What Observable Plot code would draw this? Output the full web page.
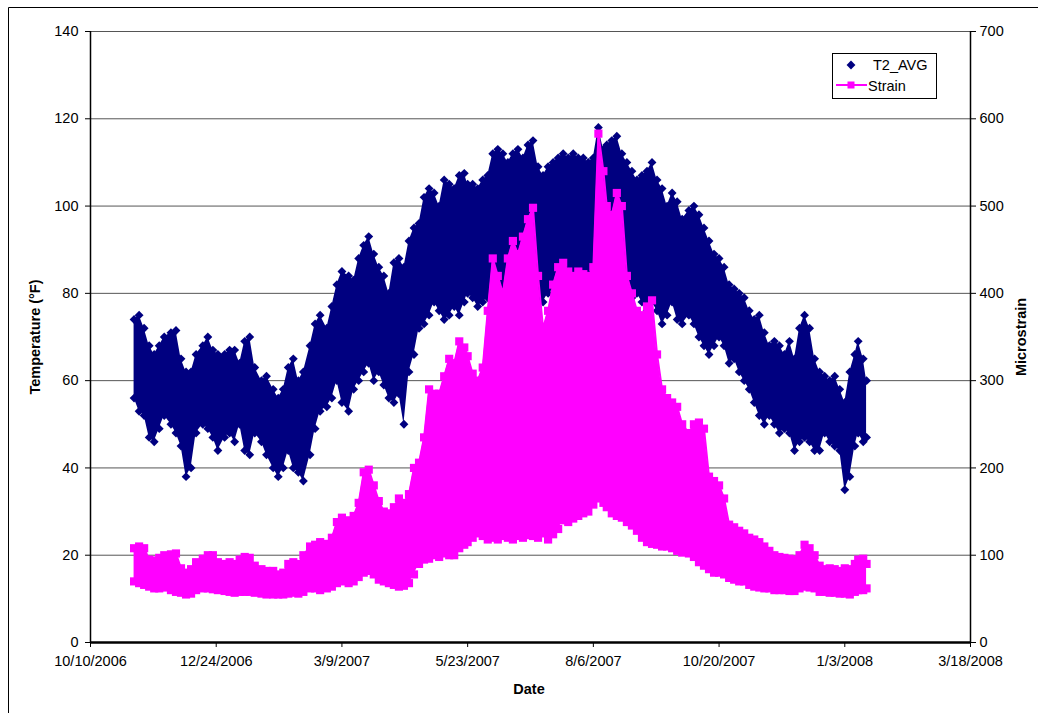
<!DOCTYPE html>
<html>
<head>
<meta charset="utf-8">
<script src="https://cdn.jsdelivr.net/npm/d3@7"></script>
<script src="https://cdn.jsdelivr.net/npm/@observablehq/plot@0.6"></script>
<style>
  html, body { margin: 0; padding: 0; background: #fff; }
  #chart { position: relative; width: 1038px; height: 713px; overflow: hidden; }
</style>
</head>
<body>
<div id="chart"></div>
<script>
// ---------------- data ----------------
const xTickLabels = ["10/10/2006", "12/24/2006", "3/9/2007", "5/23/2007", "8/6/2007", "10/20/2007", "1/3/2008", "3/18/2008"];
const tempTicks = [0, 20, 40, 60, 80, 100, 120, 140];
const strainTicks = [0, 100, 200, 300, 400, 500, 600, 700];
const seriesNames = ["T2_AVG", "Strain"];

const sampleDates = [
  "2006-11-05","2006-11-08","2006-11-11","2006-11-14","2006-11-17","2006-11-20","2006-11-23","2006-11-27","2006-11-30","2006-12-03",
  "2006-12-06","2006-12-09","2006-12-12","2006-12-16","2006-12-19","2006-12-22","2006-12-25","2006-12-29","2007-01-01","2007-01-04",
  "2007-01-07","2007-01-10","2007-01-13","2007-01-16","2007-01-20","2007-01-23","2007-01-27","2007-01-30","2007-02-02","2007-02-05",
  "2007-02-08","2007-02-11","2007-02-14","2007-02-18","2007-02-21","2007-02-24","2007-02-28","2007-03-03","2007-03-06","2007-03-09",
  "2007-03-13","2007-03-16","2007-03-19","2007-03-22","2007-03-25","2007-03-28","2007-03-31","2007-04-03","2007-04-06","2007-04-09",
  "2007-04-12","2007-04-15","2007-04-18","2007-04-21","2007-04-24","2007-04-27","2007-04-30","2007-05-03","2007-05-06","2007-05-09",
  "2007-05-12","2007-05-15","2007-05-18","2007-05-21","2007-05-23","2007-05-26","2007-05-29","2007-06-01","2007-06-04","2007-06-07",
  "2007-06-10","2007-06-13","2007-06-16","2007-06-19","2007-06-22","2007-06-25","2007-06-28","2007-07-01","2007-07-04","2007-07-07",
  "2007-07-10","2007-07-13","2007-07-16","2007-07-19","2007-07-22","2007-07-25","2007-07-28","2007-07-31","2007-08-03","2007-08-06",
  "2007-08-09","2007-08-12","2007-08-14","2007-08-17","2007-08-20","2007-08-23","2007-08-26","2007-08-29","2007-09-01","2007-09-04",
  "2007-09-07","2007-09-10","2007-09-13","2007-09-16","2007-09-19","2007-09-22","2007-09-25","2007-09-28","2007-10-02","2007-10-05",
  "2007-10-08","2007-10-11","2007-10-14","2007-10-17","2007-10-20","2007-10-23","2007-10-26","2007-10-29","2007-11-01","2007-11-04",
  "2007-11-07","2007-11-10","2007-11-13","2007-11-16","2007-11-19","2007-11-22","2007-11-25","2007-11-28","2007-12-01","2007-12-04",
  "2007-12-07","2007-12-10","2007-12-13","2007-12-16","2007-12-19","2007-12-22","2007-12-25","2007-12-28","2007-12-31","2008-01-03",
  "2008-01-06","2008-01-09","2008-01-11","2008-01-14","2008-01-16"
];

// T2_AVG (°F): upper and lower envelope of the readings at each sample date
const tempMax = [
  74,75,72,68,66,68,70,71,71.5,65,
  62,62,66,68,70,67,66,66,67,67,
  64,69,70,63,60,61,58,56,58,63,
  65,60,62,68,73,75,72,77,82,85,
  84,83,88,91,93,89,86,84,80,87,
  88,86,92,95,96,102,104,103,100,106,
  105,104,107,107.5,105,105,104,106,107,112,
  113,112,110,112,113,111,114,115,109,107,
  109,110,111,112,111,112,111,111,110,111,
  118,113,114,115,116,112,110,108,106,107,
  108,110,106,104,100,103,101,97,99,100,
  98,95,92,89,88,86,82,81,80,79,
  76,74,75,71,68,69,68,66,69,65,
  72,75,72,65,62,61,60,61,58,55,
  62,66,69,65,60
];
const tempMin = [
  56,53,52,47,46,49,52,50,48,45,
  38,40,48,50,49,47,44,47,48,46,
  50,44,43,48,46,43,40,38,40,44,
  40,39,37,43,49,53,54,56,60,55,
  53,58,60,62,64,60,62,59,56,55,
  57,50,62,66,72,73,75,78,76,74,
  75,77,75,78,80,79,77,78,79,80,
  81,80,82,80,79,82,84,80,79,78,
  80,81,79,81,82,79,83,85,82,83,
  84,82,83,80,82,86,82,79,80,78,
  76,78,76,73,75,78,74,73,75,73,
  70,68,66,68,70,68,64,65,62,60,
  58,55,52,50,52,50,48,49,48,44,
  46,47,46,44,44,48,46,45,44,35,
  38,45,48,46,47
];

// Strain (microstrain): upper and lower envelope at each sample date
const strainMax = [
  108,110,108,95,94,97,100,101,102,85,
  80,84,92,96,100,100,92,90,92,90,
  95,98,97,88,84,82,82,78,80,90,
  92,90,100,110,112,115,113,120,138,143,
  140,145,160,195,198,180,162,150,148,155,
  165,160,170,200,206,235,290,285,285,305,
  325,320,345,338,328,308,300,315,380,440,
  420,400,440,460,445,465,485,498,420,360,
  380,410,430,435,425,420,425,422,420,430,
  583,540,500,490,515,500,420,400,380,375,
  385,392,330,290,280,275,270,250,240,250,
  252,245,190,185,180,165,135,132,128,125,
  120,118,115,110,105,100,98,97,96,95,
  100,112,108,100,88,84,85,84,82,85,
  84,90,95,96,90
];
const strainMin = [
  70,68,66,64,62,62,63,60,58,57,
  55,56,60,62,62,61,60,59,58,57,
  58,58,58,57,56,55,55,55,55,56,
  57,56,58,62,62,60,62,64,68,70,
  68,70,75,80,82,78,72,70,68,66,
  64,65,68,78,90,95,96,100,98,102,
  100,100,108,112,115,120,125,122,118,120,
  118,122,120,118,122,120,123,122,120,125,
  118,124,130,140,138,142,145,148,150,158,
  165,160,155,148,145,143,138,134,128,120,
  115,113,112,110,110,108,105,103,102,98,
  92,88,84,80,80,78,74,72,70,70,
  66,64,63,62,62,60,60,60,59,59,
  62,64,63,62,58,58,57,57,56,56,
  55,58,60,60,62
];

// ---------------- build ----------------
const parseTick = d3.utcParse("%m/%d/%Y");
const fmtTick = d3.utcFormat("%-m/%-d/%Y");
const xTicks = xTickLabels.map(parseTick);
const tempTop = tempTicks[tempTicks.length - 1];
const ratio = strainTicks[strainTicks.length - 1] / tempTop; // microstrain per °F on the shared y scale

const rows = sampleDates.map((d, i) => ({
  date: new Date(d + "T00:00:00Z"),
  tMax: tempMax[i], tMin: tempMin[i],
  sMax: strainMax[i] / ratio, sMin: strainMin[i] / ratio
}));

const NAVY = "#000080";
const MAGENTA = "#FF00FF";

const chart = Plot.plot({
  width: 1038,
  height: 713,
  marginTop: 31,
  marginBottom: 71,
  marginLeft: 90,
  marginRight: 68,
  style: { fontFamily: "'Liberation Sans', Arial, sans-serif", fontSize: "14.5px", background: "white", color: "black" },
  x: { type: "utc", domain: [xTicks[0], xTicks[xTicks.length - 1]] },
  y: { domain: [0, tempTop] },
  marks: [
    Plot.ruleY(tempTicks.filter(d => d > 0), { stroke: "#555", strokeWidth: 1 }),
    // T2_AVG
    Plot.areaY(rows, { x: "date", y1: "tMin", y2: "tMax", fill: NAVY }),
    Plot.dot(rows, { x: "date", y: "tMax", symbol: "diamond2", r: 4, fill: NAVY, stroke: "none" }),
    Plot.dot(rows, { x: "date", y: "tMin", symbol: "diamond2", r: 4, fill: NAVY, stroke: "none" }),
    // Strain
    Plot.areaY(rows, { x: "date", y1: "sMin", y2: "sMax", fill: MAGENTA }),
    Plot.lineY(rows, { x: "date", y: "sMax", stroke: MAGENTA, strokeWidth: 2 }),
    Plot.dot(rows, { x: "date", y: "sMax", symbol: "square", r: 4.6, fill: MAGENTA, stroke: "none" }),
    Plot.dot(rows, { x: "date", y: "sMin", symbol: "square", r: 4.6, fill: MAGENTA, stroke: "none" }),
    // frame
    Plot.ruleX([xTicks[0], xTicks[xTicks.length - 1]], { stroke: "black", strokeWidth: 1.5 }),
    Plot.ruleY([0], { stroke: "black", strokeWidth: 2.5 }),
    // axes
    Plot.axisY(tempTicks, { anchor: "left", tickSize: 5, tickPadding: 7, label: null, tickFormat: d => String(d) }),
    Plot.axisY(strainTicks.map(s => s / ratio), { anchor: "right", tickSize: 5, tickPadding: 4, label: null, tickFormat: d => String(Math.round(d * ratio)) }),
    Plot.axisX(xTicks, { anchor: "bottom", tickSize: 5, tickPadding: 8, label: null, tickFormat: fmtTick })
  ]
});

document.getElementById("chart").appendChild(chart);

// ---------------- annotations (titles, legend, outer border) ----------------
const svg = d3.select(chart);
const font = "'Liberation Sans', Arial, sans-serif";

// outer chart-area border (cropped at right/bottom in the reference)
svg.append("path").attr("d", "M8.5,713 V7.5 H1038").attr("fill", "none").attr("stroke", "black").attr("stroke-width", 1);

svg.append("text")
  .attr("transform", "translate(40,337) rotate(-90)")
  .attr("text-anchor", "middle")
  .attr("font-family", font).attr("font-weight", "bold").attr("font-size", "14.5px")
  .text("Temperature (°F)");

svg.append("text")
  .attr("transform", "translate(1026,337) rotate(-90)")
  .attr("text-anchor", "middle")
  .attr("font-family", font).attr("font-weight", "bold").attr("font-size", "14.5px")
  .text("Microstrain");

svg.append("text")
  .attr("x", 529).attr("y", 694)
  .attr("text-anchor", "middle")
  .attr("font-family", font).attr("font-weight", "bold").attr("font-size", "14.5px")
  .text("Date");

// legend
const lg = svg.append("g").attr("font-family", font).attr("font-size", "14.5px").attr("text-anchor", "start");
lg.append("rect").attr("x", 832.5).attr("y", 53.5).attr("width", 104).attr("height", 45)
  .attr("fill", "white").attr("stroke", "black").attr("stroke-width", 1);
lg.append("path").attr("d", d3.symbol(d3.symbolDiamond2, 50)()).attr("transform", "translate(851,65)").attr("fill", NAVY);
lg.append("text").attr("x", 873).attr("y", 70).attr("text-anchor", "start").text(seriesNames[0]);
lg.append("line").attr("x1", 836).attr("x2", 867).attr("y1", 85).attr("y2", 85).attr("stroke", MAGENTA).attr("stroke-width", 2);
lg.append("rect").attr("x", 847.5).attr("y", 81.5).attr("width", 7).attr("height", 7).attr("fill", MAGENTA);
lg.append("text").attr("x", 868).attr("y", 90.5).attr("text-anchor", "start").text(seriesNames[1]);
</script>
</body>
</html>
